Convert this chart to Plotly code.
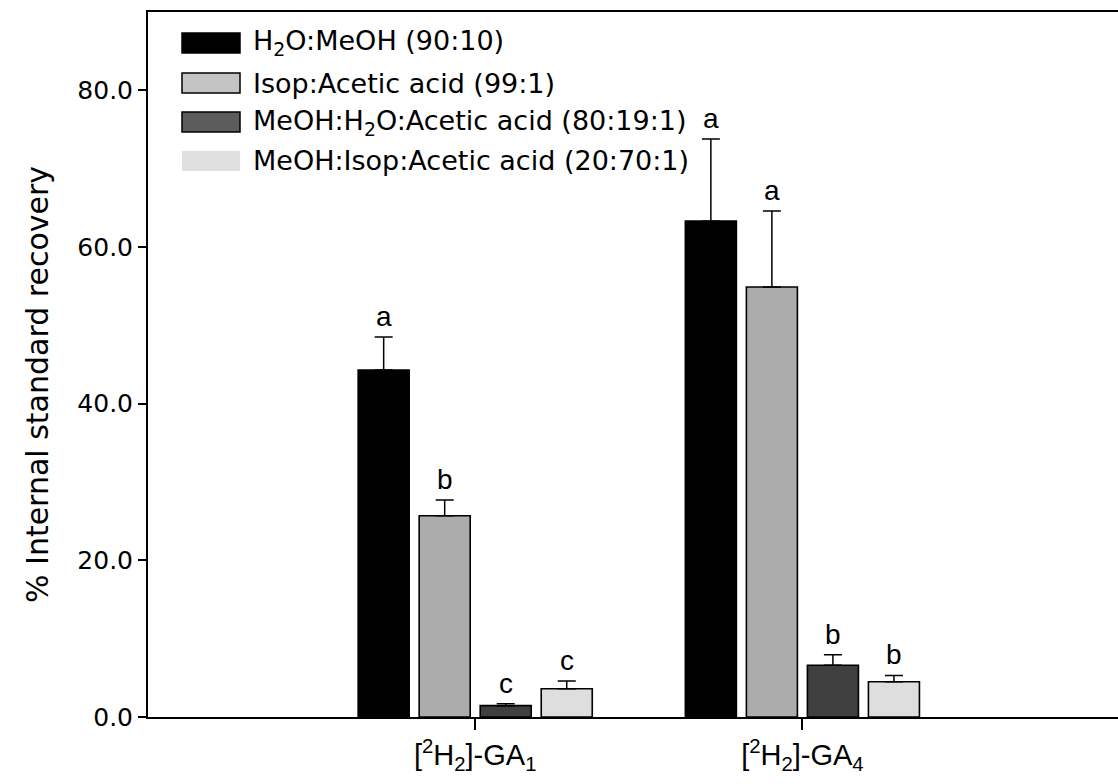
import plotly.graph_objects as go

# ---- data -------------------------------------------------------------
groups = ["[<sup>2</sup>H<sub>2</sub>]-GA<sub>1</sub>",
          "[<sup>2</sup>H<sub>2</sub>]-GA<sub>4</sub>"]
group_pos = [1, 2]

solvents = ["H<sub>2</sub>O:MeOH (90:10)",
            "Isop:Acetic acid (99:1)",
            "MeOH:H<sub>2</sub>O:Acetic acid (80:19:1)",
            "MeOH:Isop:Acetic acid (20:70:1)"]

h2o_meoh = [44.3, 63.3]
h2o_meoh_err = [4.2, 10.5]
isop_acetic = [25.7, 54.9]
isop_acetic_err = [2.0, 9.7]
meoh_h2o_acetic = [1.45, 6.6]
meoh_h2o_acetic_err = [0.25, 1.35]
meoh_isop_acetic = [3.6, 4.5]
meoh_isop_acetic_err = [1.0, 0.8]

h2o_meoh_sig = ["a", "a"]
isop_acetic_sig = ["b", "a"]
meoh_h2o_acetic_sig = ["c", "b"]
meoh_isop_acetic_sig = ["c", "b"]

y_ticks = [0, 20, 40, 60, 80]
y_title = "% Internal standard recovery"

# ---- styling ----------------------------------------------------------
bar_colors = ["#000000", "#acacac", "#404040", "#dedede"]
swatch_colors = ["#000000", "#c4c4c4", "#5c5c5c", "#e0e0e0"]
swatch_lines = ["#000000", "#000000", "#000000", "rgba(0,0,0,0)"]

series = [
    (h2o_meoh, h2o_meoh_err, h2o_meoh_sig),
    (isop_acetic, isop_acetic_err, isop_acetic_sig),
    (meoh_h2o_acetic, meoh_h2o_acetic_err, meoh_h2o_acetic_sig),
    (meoh_isop_acetic, meoh_isop_acetic_err, meoh_isop_acetic_sig),
]

W, H = 1118, 784
ML, MR, MT, MB = 148, 0, 12, 67
PW, PH = W - ML - MR, H - MT - MB

BARGAP = 0.254
BARGROUPGAP = 0.164
n_series = len(series)
slot = (1 - BARGAP) / n_series

VERDANA = "DejaVu Sans, Verdana, sans-serif"
ARIAL = "Liberation Sans, Arial, sans-serif"

fig = go.Figure()

for i, (vals, errs, sig) in enumerate(series):
    fig.add_trace(go.Bar(
        x=group_pos, y=vals, name=solvents[i],
        marker=dict(color=bar_colors[i], line=dict(color="#000000", width=1.6)),
        error_y=dict(type="data", symmetric=False, array=errs,
                     arrayminus=[0] * len(errs),
                     color="#000000", thickness=1.5, width=9),
        showlegend=False,
    ))
    # significance letters above each error bar
    offset = -(1 - BARGAP) / 2 + slot * (i + 0.5)
    for gx, v, e, s in zip(group_pos, vals, errs, sig):
        fig.add_annotation(
            x=gx + offset, y=v + e, text=s, showarrow=False,
            xref="x", yref="y", yanchor="bottom", yshift=3,
            font=dict(family=ARIAL, size=28, color="#000000"),
        )

# ---- pixel helpers for paper-positioned elements ----------------------
def px_x(px):
    return (px - ML) / PW

def px_y(py):
    return (H - MB - py) / PH

# ---- hand-drawn legend (wide rectangular swatches) ----------------------
legend_rows = [43, 83, 122, 161]
for i, name in enumerate(solvents):
    cy = legend_rows[i]
    fig.add_shape(type="rect", xref="paper", yref="paper",
                  x0=px_x(182), x1=px_x(240), y0=px_y(cy + 10), y1=px_y(cy - 10),
                  fillcolor=swatch_colors[i],
                  line=dict(color=swatch_lines[i], width=1.5))
    fig.add_annotation(x=px_x(251), y=px_y(cy), xref="paper", yref="paper",
                       text=name, showarrow=False, xanchor="left", yanchor="middle",
                       font=dict(family=VERDANA, size=27, color="#000000"))

# ---- y-axis title --------------------------------------------------------
fig.add_annotation(x=px_x(37), y=px_y(385), xref="paper", yref="paper",
                   text=y_title, textangle=-90, showarrow=False,
                   xanchor="center", yanchor="middle",
                   font=dict(family=VERDANA, size=30, color="#000000"))

fig.update_layout(
    width=W, height=H,
    margin=dict(l=ML, r=MR, t=MT, b=MB, pad=0),
    paper_bgcolor="#ffffff", plot_bgcolor="#ffffff",
    barmode="group", bargap=BARGAP, bargroupgap=BARGROUPGAP,
    showlegend=False,
)

fig.update_xaxes(
    range=[0, PW / 327.2], tickmode="array", tickvals=group_pos, ticktext=groups,
    showline=True, linecolor="#000000", linewidth=2, mirror=True,
    ticks="outside", ticklen=11, tickwidth=1.5, tickcolor="#000000",
    showgrid=False, zeroline=False,
    tickfont=dict(family=ARIAL, size=29, color="#000000"),
)

fig.update_yaxes(
    range=[0, 90], tickmode="array", tickvals=y_ticks,
    ticktext=[f"{t:.1f}" for t in y_ticks],
    showline=True, linecolor="#000000", linewidth=2,
    ticks="outside", ticklen=8, tickwidth=1.5, tickcolor="#000000",
    showgrid=False, zeroline=False,
    tickfont=dict(family=VERDANA, size=25, color="#000000"),
)

fig.write_html("out.html")
